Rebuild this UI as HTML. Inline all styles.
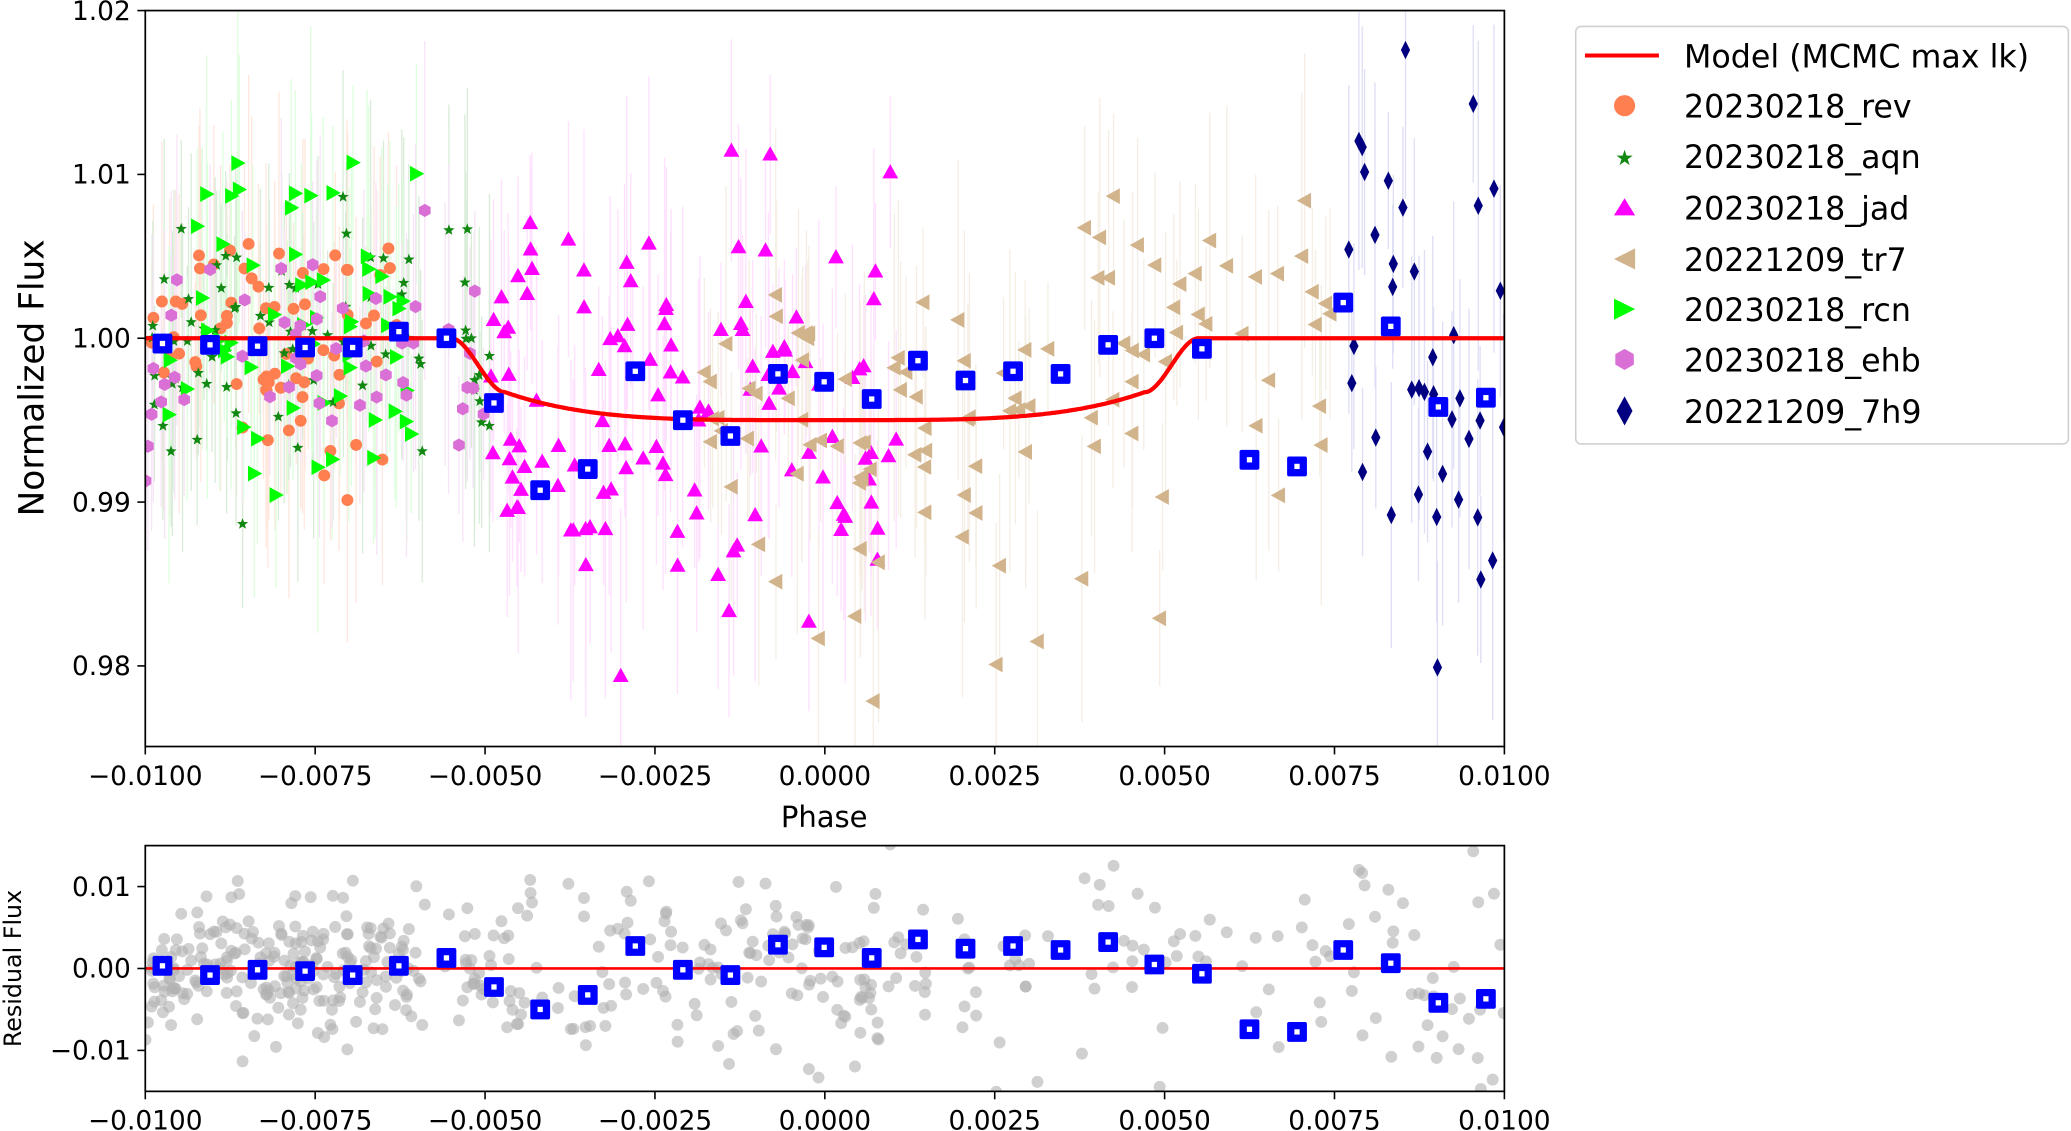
<!DOCTYPE html>
<html><head><meta charset="utf-8"><style>
html,body{margin:0;padding:0;background:#fff;}
svg{display:block;}
text{font-family:"DejaVu Sans","Liberation Sans",sans-serif;fill:#000;}
</style></head><body>
<svg id="s" width="2071" height="1131" viewBox="0 0 1568 856" preserveAspectRatio="none" xmlns="http://www.w3.org/2000/svg">
<defs>
<clipPath id="c1"><rect x="110" y="8" width="1029" height="557"/></clipPath>
<clipPath id="c2"><rect x="110" y="640" width="1029" height="186"/></clipPath>
</defs>
<g id="err" clip-path="url(#c1)" opacity="0.6"></g>
<g id="pts" clip-path="url(#c1)"></g>
<g id="model" clip-path="url(#c1)"></g>
<g id="bins"></g>
<g id="res" clip-path="url(#c2)"></g>
<g id="rl"></g>
<g id="bins2"></g>
<rect x="110" y="8" width="1029" height="557" fill="none" stroke="#000" stroke-width="1.3"/>
<rect x="110" y="640" width="1029" height="186" fill="none" stroke="#000" stroke-width="1.3"/>
<g id="ticks"></g>
<text x="624" y="626" font-size="22" text-anchor="middle">Phase</text>
<text transform="translate(33,286) rotate(-90)" font-size="26" text-anchor="middle">Normalized Flux</text>
<text transform="translate(16,733) rotate(-90)" font-size="18" text-anchor="middle">Residual Flux</text>
<g id="legend">
<rect x="1193" y="20" width="373" height="316" rx="4" fill="#fff" stroke="#d0d0d0" stroke-width="1.2"/>
<line x1="1200" y1="42" x2="1256" y2="42" stroke="#ff0000" stroke-width="3"/>
<text x="1275" y="51" font-size="24">Model (MCMC max lk)</text>
<circle cx="1230" cy="80" r="8" fill="#ff7f50"/>
<text x="1275" y="89" font-size="24">20230218_rev</text>
<text x="1230" y="125" font-size="16" text-anchor="middle" style="fill:#118811">★</text>
<text x="1275" y="127" font-size="24">20230218_aqn</text>
<polygon points="1230,150 1238,163 1222,163" fill="#ff00ff"/>
<text x="1275" y="166" font-size="24">20230218_jad</text>
<polygon points="1222,196 1238,188 1238,204" fill="#d2b48c"/>
<text x="1275" y="205" font-size="24">20221209_tr7</text>
<polygon points="1238,234 1222,226 1222,242" fill="#00ff00"/>
<text x="1275" y="243" font-size="24">20230218_rcn</text>
<polygon points="1230,264 1237,268 1237,276 1230,280 1223,276 1223,268" fill="#da70d6"/>
<text x="1275" y="281" font-size="24">20230218_ehb</text>
<polygon points="1230,300 1236,311 1230,322 1224,311" fill="#000080"/>
<text x="1275" y="320" font-size="24">20221209_7h9</text>
</g>
</svg>
<script>
(function(){
var NS="http://www.w3.org/2000/svg";
function el(p,t,a){var e=document.createElementNS(NS,t);for(var k in a)e.setAttribute(k,a[k]);p.appendChild(e);return e;}
var seed=777;function rnd(){seed=(seed*1103515245+12345)%2147483648;return seed/2147483648;}
function gauss(){var u=rnd()||1e-6,v=rnd();return Math.sqrt(-2*Math.log(u))*Math.cos(6.2832*v);}
function X(p){return 110+(p+0.01)/0.02*1029;}
function Y(f){return 256-(f-1)*12400;}
function YR(r){return 733-r*6200;}
function model(p){var a=Math.abs(p);if(a>=0.0055)return 1;if(a<=0.0047)return 0.995+0.0017*Math.pow(a/0.0047,4);
 var t=(a-0.0047)/0.0008;t=t*t*(3-2*t);return 0.9967+0.0033*t;}
var err=document.getElementById('err'),pts=document.getElementById('pts'),res=document.getElementById('res');
var groups=[
 {c:'#ff7f50',e:'#ffd8c8',x0:-0.0100,x1:-0.0063,n:70,sd:0.0035,m:'o'},
 {c:'#118811',e:'#bfe0bf',x0:-0.0100,x1:-0.0049,n:80,sd:0.0038,m:'*'},
 {c:'#00ff00',e:'#c8ffc8',x0:-0.0100,x1:-0.0058,n:60,sd:0.005,m:'>'},
 {c:'#da70d6',e:'#f3d3f2',x0:-0.0100,x1:-0.0049,n:50,sd:0.004,m:'h'},
 {c:'#ff00ff',e:'#ffcdff',x0:-0.0050,x1:0.0012,n:120,sd:0.0065,m:'^'},
 {c:'#d2b48c',e:'#efe3d3',x0:-0.0018,x1:0.0077,n:110,sd:0.0065,m:'<'},
 {c:'#000080',e:'#c8c8f0',x0:0.0076,x1:0.0100,n:40,sd:0.009,m:'d'}];
function star(x,y,r){var a=[];for(var k=0;k<10;k++){var rr=k%2?r*0.42:r;var t=-Math.PI/2+k*Math.PI/5;a.push((x+rr*Math.cos(t)).toFixed(1)+','+(y+rr*Math.sin(t)).toFixed(1));}return a.join(' ');}
groups.forEach(function(g){
 for(var i=0;i<g.n;i++){
  var p=g.x0+(g.x1-g.x0)*rnd();var f=model(p)+gauss()*g.sd;
  var x=X(p),y=Y(f),eh=50+rnd()*80;
  el(err,'line',{x1:x,y1:y-eh,x2:x,y2:y+eh,stroke:g.e,'stroke-width':1});
  var s=6;
  if(g.m=='o')el(pts,'circle',{cx:x,cy:y,r:4.5,fill:g.c});
  else if(g.m=='*')el(pts,'polygon',{points:star(x,y,4.5),fill:g.c});
  else if(g.m=='^')el(pts,'polygon',{points:[x,y-s,x+s,y+s*0.8,x-s,y+s*0.8].join(' '),fill:g.c});
  else if(g.m=='<')el(pts,'polygon',{points:[x-s,y,x+s*0.8,y-s,x+s*0.8,y+s].join(' '),fill:g.c});
  else if(g.m=='>')el(pts,'polygon',{points:[x+s,y,x-s*0.8,y-s,x-s*0.8,y+s].join(' '),fill:g.c});
  else if(g.m=='h')el(pts,'polygon',{points:[x,y-5,x+4.4,y-2.5,x+4.4,y+2.5,x,y+5,x-4.4,y+2.5,x-4.4,y-2.5].join(' '),fill:g.c});
  else el(pts,'polygon',{points:[x,y-7,x+3.5,y,x,y+7,x-3.5,y].join(' '),fill:g.c});
  el(res,'circle',{cx:x,cy:YR((f-model(p))*1.0),r:4.5,fill:'#b0b0b0','fill-opacity':0.6});
 }});
var d='';for(var i=0;i<=1000;i++){var p=-0.01+0.02*i/1000;d+=(i?'L':'M')+X(p).toFixed(1)+','+Y(model(p)).toFixed(1);}
el(document.getElementById('model'),'path',{d:d,fill:'none',stroke:'#ff0000','stroke-width':3.2});
el(document.getElementById('rl'),'line',{x1:110,y1:733,x2:1139,y2:733,stroke:'#ff0000','stroke-width':2});
var bx=[123,159,195,231,267,302,338,374,409,445,481,517,553,589,624,660,695,731,767,803,839,874,910,946,982,1017,1053,1089,1125];
var by=[260,261,262,263,263,251,256,305,371,355,281,318,330,283,289,302,273,288,281,283,261,256,264,348,353,229,247,308,301];
var ry=[731,738,734,735,738,731,725,747,764,753,716,734,738,715,717,725,711,718,716,719,713,730,737,779,781,719,729,759,756];
var b=document.getElementById('bins'),b2=document.getElementById('bins2');
for(var i=0;i<bx.length;i++){
 [[b,bx[i],by[i]],[b2,bx[i],ry[i]]].forEach(function(q){
  el(q[0],'rect',{x:q[1]-7.5,y:q[2]-7.5,width:15,height:15,rx:1.5,fill:'#0000ff'});
  el(q[0],'rect',{x:q[1]-2,y:q[2]-2,width:4,height:4,fill:'#fff'});});
}
var t=document.getElementById('ticks');
var xl=['\u22120.0100','\u22120.0075','\u22120.0050','\u22120.0025','0.0000','0.0025','0.0050','0.0075','0.0100'];
for(var i=0;i<9;i++){var x=110+i*1029/8;
 [565,826].forEach(function(yb){el(t,'line',{x1:x,y1:yb,x2:x,y2:yb+6,stroke:'#000','stroke-width':1.2});
 var tx=el(t,'text',{x:x,y:yb+29,'font-size':20,'text-anchor':'middle'});tx.textContent=xl[i];});}
[[1.02,'1.02'],[1.01,'1.01'],[1.0,'1.00'],[0.99,'0.99'],[0.98,'0.98']].forEach(function(v){var y=Y(v[0]);
 el(t,'line',{x1:104,y1:y,x2:110,y2:y,stroke:'#000','stroke-width':1.2});
 var tx=el(t,'text',{x:99,y:y+7,'font-size':20,'text-anchor':'end'});tx.textContent=v[1];});
[[0.01,'0.01'],[0,'0.00'],[-0.01,'\u22120.01']].forEach(function(v){var y=YR(v[0]);
 el(t,'line',{x1:104,y1:y,x2:110,y2:y,stroke:'#000','stroke-width':1.2});
 var tx=el(t,'text',{x:99,y:y+7,'font-size':20,'text-anchor':'end'});tx.textContent=v[1];});
})();
</script>
</body></html>
